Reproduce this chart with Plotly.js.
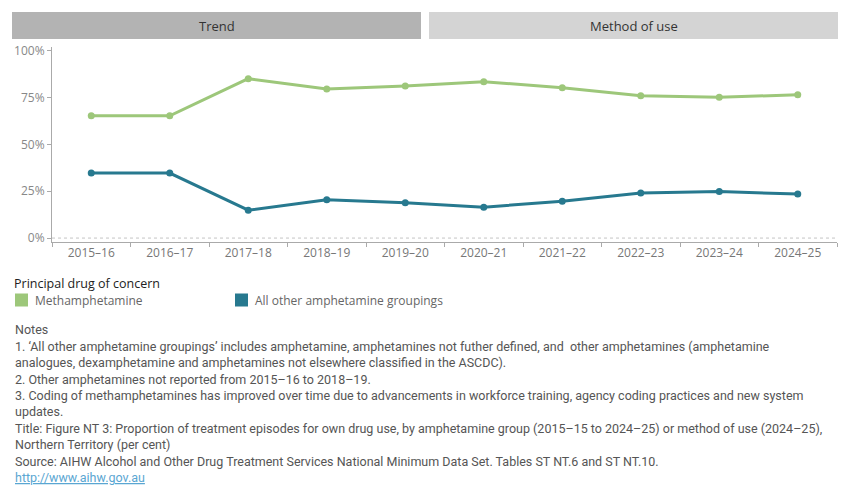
<!DOCTYPE html>
<html>
<head>
<meta charset="utf-8">
<script src="https://cdn.plot.ly/plotly-3.0.1.min.js"></script>
<style>html,body{margin:0;padding:0;background:#fff;}#chart{width:850px;height:500px;}</style>
</head>
<body>
<div id="chart"></div>
<script>
// ---- Data ----
const years = ['2015–16','2016–17','2017–18','2018–19','2019–20','2020–21','2021–22','2022–23','2023–24','2024–25'];
const methamphetamine = [65.3, 65.3, 85.1, 79.6, 81.2, 83.5, 80.3, 76.0, 75.2, 76.5];
const otherAmphetamines = [34.7, 34.7, 14.9, 20.4, 18.8, 16.5, 19.7, 24.0, 24.8, 23.5];
const seriesNames = ['Methamphetamine', 'All other amphetamine groupings'];
const yTicks = [0, 25, 50, 75, 100];
const panelTitles = ['Trend', 'Method of use'];
const legendTitle = 'Principal drug of concern';
const notes = [
  'Notes',
  '1. ‘All other amphetamine groupings’ includes amphetamine, amphetamines not futher defined, and  other amphetamines (amphetamine',
  'analogues, dexamphetamine and amphetamines not elsewhere classified in the ASCDC).',
  '2. Other amphetamines not reported from 2015–16 to 2018–19.',
  '3. Coding of methamphetamines has improved over time due to advancements in workforce training, agency coding practices and new system',
  'updates.',
  'Title: Figure NT 3: Proportion of treatment episodes for own drug use, by amphetamine group (2015–15 to 2024–25) or method of use (2024–25),',
  'Northern Territory (per cent)',
  'Source: AIHW Alcohol and Other Drug Treatment Services National Minimum Data Set. Tables ST NT.6 and ST NT.10.'
];
const linkText = 'http://www.aihw.gov.au';

// ---- Layout helpers (pixel -> paper) ----
const W = 850, H = 500;
const M = {l: 52, r: 13, t: 47, b: 258};
const PW = W - M.l - M.r, PH = H - M.t - M.b;
const px = x => (x - M.l) / PW;
const py = y => (H - M.b - y) / PH;

const colors = ['#9dc77a', '#27798f'];
const font = 'Open Sans, sans-serif';
const noteFont = 'Roboto, sans-serif';

const traces = [
  {x: years, y: methamphetamine, name: seriesNames[0], type: 'scatter', mode: 'lines+markers',
   line: {color: colors[0], width: 3}, marker: {color: colors[0], size: 7}, showlegend: false},
  {x: years, y: otherAmphetamines, name: seriesNames[1], type: 'scatter', mode: 'lines+markers',
   line: {color: colors[1], width: 3}, marker: {color: colors[1], size: 7}, showlegend: false}
];

const shapes = [
  {type: 'rect', xref: 'paper', yref: 'paper', x0: px(12), x1: px(421), y0: py(39), y1: py(12),
   fillcolor: '#b3b3b3', line: {width: 0}, layer: 'below'},
  {type: 'rect', xref: 'paper', yref: 'paper', x0: px(429), x1: px(838), y0: py(39), y1: py(12),
   fillcolor: '#d4d4d4', line: {width: 0}, layer: 'below'},
  {type: 'line', xref: 'paper', yref: 'y', x0: 0, x1: 1, y0: 0, y1: 0,
   line: {color: '#c4c4c4', width: 1, dash: 'dot'}, layer: 'below'},
  {type: 'rect', xref: 'paper', yref: 'paper', x0: px(15), x1: px(28), y0: py(306.5), y1: py(293.5),
   fillcolor: colors[0], line: {width: 0}},
  {type: 'rect', xref: 'paper', yref: 'paper', x0: px(235), x1: px(248), y0: py(306.5), y1: py(293.5),
   fillcolor: colors[1], line: {width: 0}}
];

const annotations = [
  {text: panelTitles[0], x: px(216.5), y: py(26), xref: 'paper', yref: 'paper', showarrow: false,
   xanchor: 'center', yanchor: 'middle', font: {family: font, size: 13, color: '#333'}},
  {text: panelTitles[1], x: px(633.5), y: py(26), xref: 'paper', yref: 'paper', showarrow: false,
   xanchor: 'center', yanchor: 'middle', font: {family: font, size: 13, color: '#333'}},
  {text: legendTitle, x: px(12), y: py(283), xref: 'paper', yref: 'paper', showarrow: false,
   xanchor: 'left', yanchor: 'middle', font: {family: font, size: 12.5, color: '#222'}},
  {text: seriesNames[0], x: px(33), y: py(300), xref: 'paper', yref: 'paper', showarrow: false,
   xanchor: 'left', yanchor: 'middle', font: {family: font, size: 12, color: '#666'}},
  {text: seriesNames[1], x: px(253), y: py(300), xref: 'paper', yref: 'paper', showarrow: false,
   xanchor: 'left', yanchor: 'middle', font: {family: font, size: 12, color: '#666'}}
];

const noteY = [329, 346, 362.5, 379, 395, 411.5, 428, 444.5, 461];
notes.forEach((t, i) => {
  annotations.push({text: t, x: px(13), y: py(noteY[i]), xref: 'paper', yref: 'paper', showarrow: false,
    xanchor: 'left', yanchor: 'middle', align: 'left',
    font: {family: noteFont, size: 12.5, color: '#555'}});
});
annotations.push({text: '<a href="http://www.aihw.gov.au" style="color:#5aa6d2;text-decoration:underline">' + linkText + '</a>',
  x: px(13), y: py(477.5), xref: 'paper', yref: 'paper', showarrow: false, xanchor: 'left', yanchor: 'middle',
  font: {family: noteFont, size: 12.5, color: '#5aa6d2'}});

const layout = {
  width: W, height: H,
  margin: M,
  paper_bgcolor: '#fff', plot_bgcolor: '#fff',
  showlegend: false,
  xaxis: {
    type: 'category', range: [-0.5, 9.5], showgrid: false, zeroline: false,
    showline: true, linecolor: '#aaa', linewidth: 1,
    ticks: 'outside', tickson: 'boundaries', ticklen: 4, tickcolor: '#aaa',
    tickfont: {family: font, size: 12, color: '#777'}, fixedrange: true
  },
  yaxis: {
    range: [-2.1, 102], tickvals: yTicks, ticktext: yTicks.map(v => v + '%'),
    showgrid: false, zeroline: false, showline: true, linecolor: '#aaa', linewidth: 1,
    ticks: 'outside', ticklen: 4, tickcolor: '#aaa',
    tickfont: {family: font, size: 12, color: '#888'}, fixedrange: true
  },
  shapes: shapes,
  annotations: annotations
};

Plotly.newPlot('chart', traces, layout, {displayModeBar: false, staticPlot: true});
</script>
</body>
</html>
